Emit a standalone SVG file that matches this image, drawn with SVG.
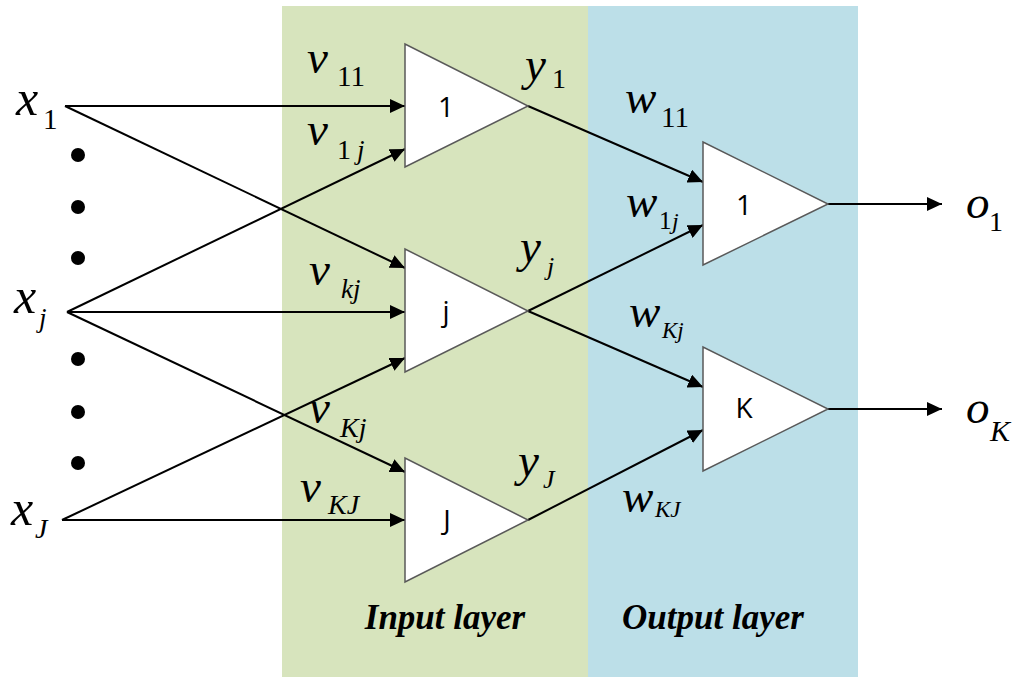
<svg xmlns="http://www.w3.org/2000/svg" width="1015" height="677" viewBox="0 0 1015 677">
<style>
.m{font-family:"Liberation Serif",serif;font-style:italic;fill:#000}
.s{font-family:"Liberation Serif",serif;fill:#000}
.tri{fill:#fff;stroke:#595959;stroke-width:1.5}
.n{font-family:"Open Sans","Liberation Sans",sans-serif;font-size:28px;fill:#000;text-anchor:middle}
.c{stroke:#000;stroke-width:2;fill:none;marker-end:url(#ah)}
.lay{font-family:"Liberation Serif",serif;font-style:italic;font-weight:bold;font-size:35px;text-anchor:middle}
</style>
<defs>
<marker id="ah" markerUnits="userSpaceOnUse" markerWidth="16" markerHeight="14" refX="15" refY="7" orient="auto">
<path d="M0,0 L15,7 L0,14 z" fill="#000"/>
</marker>
</defs>
<rect width="1015" height="677" fill="#fff"/>
<g id="panels">
<rect x="282" y="6" width="306" height="671" fill="#d7e4bd"/>
<rect x="588" y="6" width="270" height="671" fill="#bcdfe8"/>
</g>
<g id="connectors">
<line class="c" x1="65" y1="106" x2="405" y2="106"/>
<line class="c" x1="65" y1="106" x2="405" y2="268"/>
<line class="c" x1="67" y1="312" x2="405" y2="149"/>
<line class="c" x1="67" y1="312" x2="405" y2="312"/>
<line class="c" x1="67" y1="312" x2="405" y2="472"/>
<line class="c" x1="62" y1="520" x2="405" y2="358"/>
<line class="c" x1="62" y1="520" x2="405" y2="520"/>
<line class="c" x1="528" y1="106" x2="703" y2="182"/>
<line class="c" x1="528" y1="311" x2="703" y2="225"/>
<line class="c" x1="528" y1="311" x2="703" y2="387"/>
<line class="c" x1="528" y1="520" x2="703" y2="430"/>
<line class="c" x1="828" y1="204" x2="942" y2="204"/>
<line class="c" x1="828" y1="409" x2="942" y2="409"/>
</g>
<g id="dots" fill="#000">
<circle cx="78" cy="155" r="7"/>
<circle cx="78" cy="207" r="7"/>
<circle cx="78" cy="258" r="7"/>
<circle cx="78" cy="359" r="7"/>
<circle cx="78" cy="412" r="7"/>
<circle cx="78" cy="463" r="7"/>
</g>
<g id="h1"><polygon class="tri" points="405,44 405,167 528,106"/><text class="n" x="446" y="117">1</text></g>
<g id="hj"><polygon class="tri" points="405,249 405,372 528,311"/><text class="n" x="446" y="321">j</text></g>
<g id="hJ"><polygon class="tri" points="405,458 405,582 528,520"/><text class="n" x="447" y="530">J</text></g>
<g id="o1"><polygon class="tri" points="703,142 703,265 828,204"/><text class="n" x="744" y="215">1</text></g>
<g id="oK"><polygon class="tri" points="703,347 703,471 828,409"/><text class="n" x="744" y="418">K</text></g>
<g id="labels">
<text class="m" x="16" y="115" font-size="50">x</text><text class="s" x="43" y="129" font-size="29">1</text>
<text class="m" x="14" y="313" font-size="50">x</text><text class="m" x="39" y="327" font-size="27">j</text>
<text class="m" x="11" y="525" font-size="50">x</text><text class="m" x="35" y="538" font-size="28">J</text>
<text class="m" x="307" y="73" font-size="47">v</text><text class="s" x="337" y="86" font-size="29">11</text>
<text class="m" x="307" y="145" font-size="47">v</text><text class="s" x="337" y="159" font-size="28">1</text><text class="m" x="357" y="159" font-size="27">j</text>
<text class="m" x="309" y="285" font-size="47">v</text><text class="m" x="341" y="298" font-size="27">kj</text>
<text class="m" x="309" y="423" font-size="47">v</text><text class="m" x="340" y="437" font-size="28">Kj</text>
<text class="m" x="300" y="502" font-size="47">v</text><text class="m" x="328" y="514" font-size="28">KJ</text>
<text class="m" x="525" y="80" font-size="47">y</text><text class="s" x="552" y="88" font-size="28">1</text>
<text class="m" x="520" y="262" font-size="47">y</text><text class="m" x="547" y="275" font-size="26">j</text>
<text class="m" x="518" y="476" font-size="47">y</text><text class="m" x="543" y="488" font-size="26">J</text>
<text class="m" x="625" y="113" font-size="47">w</text><text class="s" x="661" y="127" font-size="29">11</text>
<text class="m" x="626" y="217" font-size="47">w</text><text class="s" x="659" y="229" font-size="25">1</text><text class="m" x="672" y="229" font-size="24">j</text>
<text class="m" x="629" y="327" font-size="47">w</text><text class="m" x="662" y="338" font-size="23">Kj</text>
<text class="m" x="622" y="512" font-size="47">w</text><text class="m" x="655" y="517" font-size="23">KJ</text>
<text class="m" x="966" y="218" font-size="47">o</text><text class="s" x="989" y="231" font-size="28">1</text>
<text class="m" x="966" y="423" font-size="47">o</text><text class="m" x="990" y="441" font-size="30">K</text>
</g>
<g id="layers">
<text class="lay" x="445" y="629">Input layer</text>
<text class="lay" x="713" y="629">Output layer</text>
</g>
</svg>
